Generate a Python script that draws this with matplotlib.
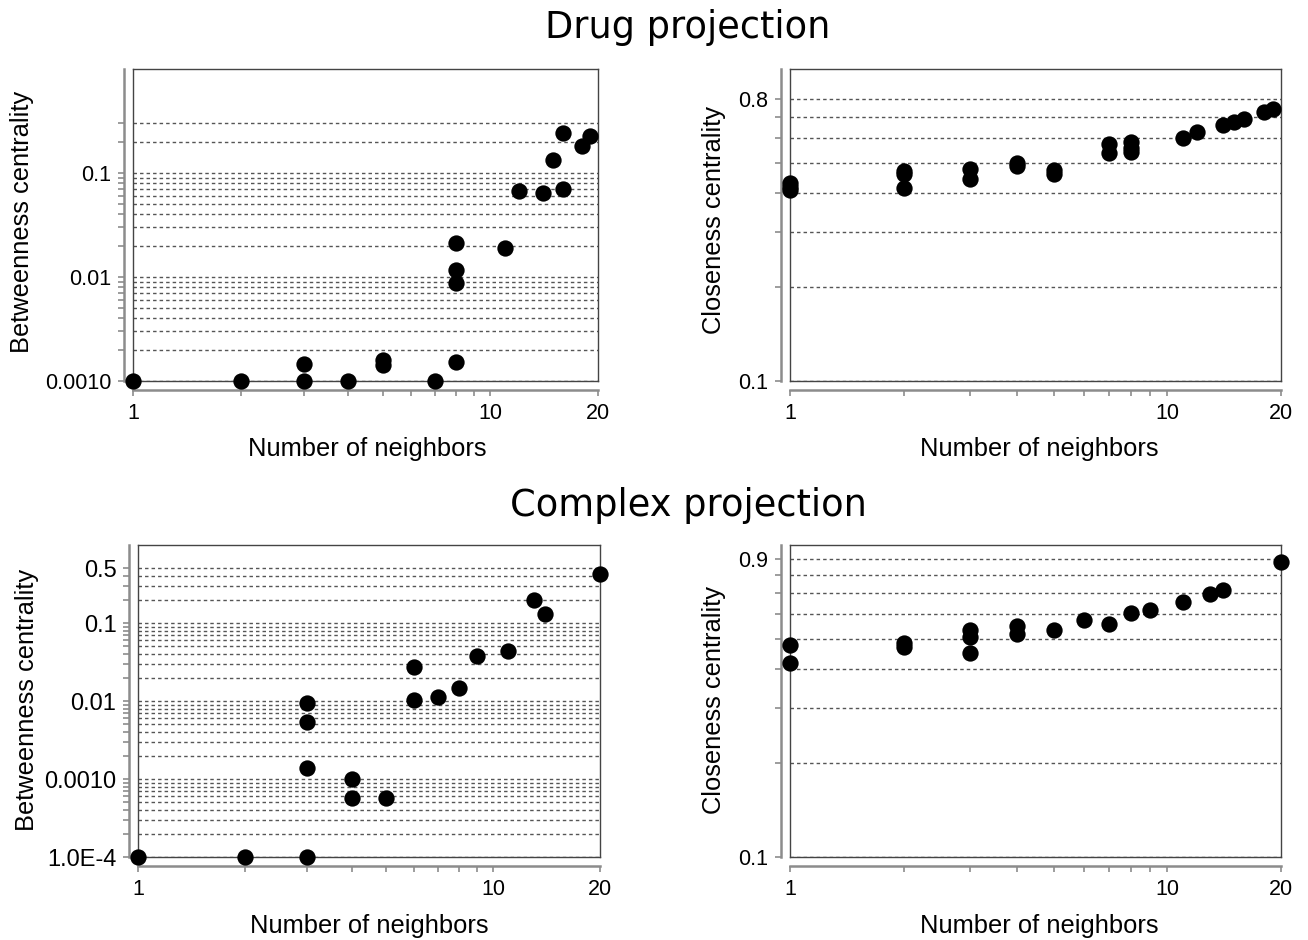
import matplotlib
matplotlib.use("Agg")
import matplotlib.pyplot as plt
from matplotlib.ticker import FixedLocator, FixedFormatter, NullFormatter
from matplotlib.lines import Line2D

plt.rcParams['font.family'] = ['Liberation Sans', 'DejaVu Sans']

# Drug projection
drug_btw_x = [1, 2, 3, 3, 4, 5, 5, 7, 8, 8, 8, 8, 11, 12, 14, 15, 16, 16, 18, 19]
drug_btw_y = [0.001, 0.001, 0.001, 0.00145, 0.001, 0.0016, 0.00143, 0.001, 0.00152, 0.0088,
              0.0118, 0.0211, 0.0191, 0.067, 0.064, 0.134, 0.243, 0.0696, 0.18, 0.229]

drug_clo_x = [1, 1, 1, 2, 2, 2, 3, 3, 4, 4, 5, 5, 7, 7, 8, 8, 8, 11, 12, 14, 15, 16, 18, 19]
drug_clo_y = [0.43, 0.42, 0.41, 0.47, 0.46, 0.415, 0.478, 0.444, 0.50, 0.49, 0.475, 0.462,
              0.574, 0.537, 0.585, 0.56, 0.54, 0.602, 0.63, 0.661, 0.675, 0.69, 0.73, 0.745]

# Complex projection
comp_btw_x = [1, 2, 3, 3, 3, 3, 4, 4, 5, 6, 6, 7, 8, 9, 11, 13, 14, 20]
comp_btw_y = [1e-4, 1e-4, 1e-4, 0.00138, 0.00538, 0.00953, 0.00099, 0.00057, 0.00057, 0.0273,
              0.0102, 0.0111, 0.0147, 0.0382, 0.0434, 0.195, 0.129, 0.425]

comp_clo_x = [1, 1, 2, 2, 3, 3, 3, 4, 4, 5, 6, 7, 8, 9, 11, 13, 14, 20]
comp_clo_y = [0.478, 0.418, 0.485, 0.47, 0.534, 0.506, 0.449, 0.55, 0.519, 0.534, 0.574,
              0.558, 0.604, 0.619, 0.655, 0.696, 0.718, 0.879]

# axis ticks / gridlines
x_major = [1, 10, 20]
x_minor = [2, 3, 4, 5, 6, 7, 8, 9]

drug_btw_ticks = [0.001, 0.01, 0.1]
drug_btw_labels = ["0.0010", "0.01", "0.1"]
drug_btw_grid = [m * d for d in (0.001, 0.01) for m in range(1, 10)] + [0.1, 0.2, 0.3]

drug_clo_ticks = [0.1, 0.8]
drug_clo_labels = ["0.1", "0.8"]
drug_clo_grid = [0.1, 0.2, 0.3, 0.4, 0.5, 0.6, 0.7, 0.8]

comp_btw_ticks = [1e-4, 0.001, 0.01, 0.1, 0.5]
comp_btw_labels = ["1.0E-4", "0.0010", "0.01", "0.1", "0.5"]
comp_btw_grid = [m * d for d in (1e-4, 0.001, 0.01) for m in range(1, 10)] + [0.1, 0.2, 0.3, 0.4, 0.5]

comp_clo_ticks = [0.1, 0.9]
comp_clo_labels = ["0.1", "0.9"]
comp_clo_grid = [0.1, 0.2, 0.3, 0.4, 0.5, 0.6, 0.7, 0.8, 0.9]

W, H = 1308, 940
fig = plt.figure(figsize=(W / 100, H / 100), dpi=100)


def rect(l, t, r, b):
    return [l / W, 1 - b / H, (r - l) / W, (b - t) / H]


def panel(box, xs, ys, ylim, ticks, labels, grid, ylabsize=15.5):
    ax = fig.add_axes(rect(*box))
    ax.set_xscale('log')
    ax.set_yscale('log')
    ax.set_xlim(1, 20)
    ax.set_ylim(*ylim)

    for g in grid:
        ax.axhline(g, color='#555555', lw=1.0, ls=(0, (2.5, 2.2)), zorder=1)

    ax.scatter(xs, ys, s=138, color='black', zorder=3, clip_on=False, linewidths=0)

    ax.xaxis.set_major_locator(FixedLocator(x_major))
    ax.xaxis.set_major_formatter(FixedFormatter([str(v) for v in x_major]))
    ax.xaxis.set_minor_locator(FixedLocator(x_minor))
    ax.xaxis.set_minor_formatter(NullFormatter())
    ax.yaxis.set_major_locator(FixedLocator(ticks))
    ax.yaxis.set_major_formatter(FixedFormatter(labels))
    ax.yaxis.set_minor_locator(FixedLocator([g for g in grid if g not in ticks]))
    ax.yaxis.set_minor_formatter(NullFormatter())

    ax.tick_params(which='both', direction='out', length=4, width=1.2, color='#8c8c8c',
                   labelsize=15.5, pad=5)
    ax.tick_params(axis='y', labelsize=ylabsize)

    for side in ('left', 'bottom'):
        ax.spines[side].set_position(('outward', 6.5))
        ax.spines[side].set_color('#8c8c8c')
        ax.spines[side].set_linewidth(1.8)
    for side in ('top', 'right'):
        ax.spines[side].set_color('#444444')
        ax.spines[side].set_linewidth(1.0)
    # inner frame edges
    ax.add_line(Line2D([0, 0], [0, 1], transform=ax.transAxes, color='#444444', lw=1.0, clip_on=False))
    ax.add_line(Line2D([0, 1], [0, 0], transform=ax.transAxes, color='#444444', lw=1.0, clip_on=False))
    return ax


panel((133, 69, 598, 381), drug_btw_x, drug_btw_y, (0.001, 1.0),
      drug_btw_ticks, drug_btw_labels, drug_btw_grid)
panel((790, 69, 1281, 381), drug_clo_x, drug_clo_y, (0.1, 1.0),
      drug_clo_ticks, drug_clo_labels, drug_clo_grid)
panel((138, 545, 600, 857), comp_btw_x, comp_btw_y, (1e-4, 1.0),
      comp_btw_ticks, comp_btw_labels, comp_btw_grid, ylabsize=17)
panel((790, 545, 1281, 857), comp_clo_x, comp_clo_y, (0.1, 1.0),
      comp_clo_ticks, comp_clo_labels, comp_clo_grid)

fig.text(688 / W, 1 - 27 / H, "Drug projection", ha='center', va='center',
         fontsize=26.5, family='DejaVu Sans')
fig.text(688 / W, 1 - 506 / H, "Complex projection", ha='center', va='center',
         fontsize=26.5, family='DejaVu Sans')

for x, y in [(367, 449), (1039, 449), (369, 926), (1039, 926)]:
    fig.text(x / W, 1 - y / H, "Number of neighbors", ha='center', va='center', fontsize=18.4)

fig.text(22 / W, 1 - 222 / H, "Betweenness centrality", rotation=90, ha='center', va='center', fontsize=18.4)
fig.text(714 / W, 1 - 220 / H, "Closeness centrality", rotation=90, ha='center', va='center', fontsize=18.4)
fig.text(27 / W, 1 - 700 / H, "Betweenness centrality", rotation=90, ha='center', va='center', fontsize=18.4)
fig.text(714 / W, 1 - 700 / H, "Closeness centrality", rotation=90, ha='center', va='center', fontsize=18.4)

fig.savefig("out.png", dpi=100)
